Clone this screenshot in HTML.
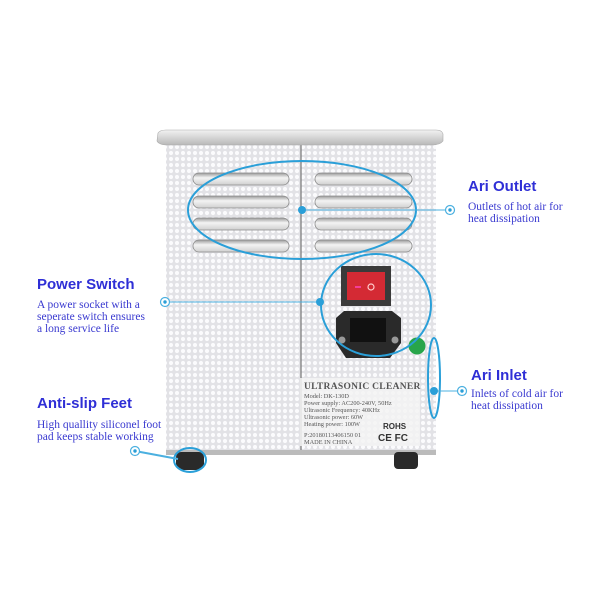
<!DOCTYPE html>
<html><head><style>
html,body{margin:0;padding:0;background:#fff;width:600px;height:600px;overflow:hidden}
.h{font-family:"Liberation Sans",sans-serif;font-weight:bold;font-size:15px;fill:#2f2fd6}
.b{font-family:"Liberation Serif",serif;font-size:11.5px;fill:#3a3ad0}
.l{font-family:"Liberation Serif",serif;fill:#555}
</style></head><body>
<svg width="600" height="600" viewBox="0 0 600 600" xmlns="http://www.w3.org/2000/svg">
<defs>
<pattern id="dots" width="6" height="6" patternUnits="userSpaceOnUse">
<rect width="6" height="6" fill="#e2e2e6"/><circle cx="3" cy="3" r="2.1" fill="#fbfbfd"/>
</pattern>
<linearGradient id="lid" x1="0" y1="0" x2="0" y2="1"><stop offset="0" stop-color="#f2f2f2"/><stop offset="1" stop-color="#b8b8b8"/></linearGradient>
<linearGradient id="lv" x1="0" y1="0" x2="0" y2="1"><stop offset="0" stop-color="#9a9a9a"/><stop offset="0.4" stop-color="#f4f4f4"/><stop offset="1" stop-color="#cfcfcf"/></linearGradient>
</defs>
<rect x="166" y="144" width="270" height="310" fill="url(#dots)"/>
<line x1="301" y1="145" x2="301" y2="454" stroke="#777" stroke-width="1.2"/>
<rect x="166" y="450" width="270" height="5" fill="#bbb"/>
<path d="M158 133 Q160 130 166 130 L436 130 Q442 130 443 134 L443 141 Q440 145 432 145 L168 145 Q159 145 157 141 Z" fill="url(#lid)" stroke="#aaa" stroke-width="0.6"/>
<g fill="url(#lv)" stroke="#8a8a8a" stroke-width="0.8">
<rect x="193" y="173" width="96" height="12" rx="6"/><rect x="193" y="196" width="96" height="12" rx="6"/>
<rect x="193" y="218" width="96" height="12" rx="6"/><rect x="193" y="240" width="96" height="12" rx="6"/>
<rect x="315" y="173" width="97" height="12" rx="6"/><rect x="315" y="196" width="97" height="12" rx="6"/>
<rect x="315" y="218" width="97" height="12" rx="6"/><rect x="315" y="240" width="97" height="12" rx="6"/>
</g>
<rect x="341" y="266" width="50" height="40" fill="#3a3a3a"/>
<rect x="347" y="272" width="38" height="28" fill="#d42a34"/>
<line x1="355" y1="287" x2="361" y2="287" stroke="#f4b" stroke-width="1.5"/>
<circle cx="371" cy="287" r="3" fill="none" stroke="#fcc" stroke-width="1.2"/>
<path d="M336 318 L344 311 L392 311 L401 318 L401 343 L390 358 L346 358 L336 343 Z" fill="#2a2a2a"/>
<rect x="350" y="318" width="36" height="24" fill="#111"/>
<circle cx="342" cy="340" r="3.5" fill="#999"/><circle cx="395" cy="340" r="3.5" fill="#999"/>
<circle cx="417" cy="346" r="8.5" fill="#28a54a"/>
<rect x="300" y="378" width="120" height="68" fill="#f3f3f3" opacity="0.85"/>
<text x="304" y="389" class="l" font-size="9.5" font-weight="bold" letter-spacing="0.3" fill="#333">ULTRASONIC CLEANER</text>
<g class="l" font-size="6.3">
<text x="304" y="398">Model: DK-130D</text>
<text x="304" y="405">Power supply: AC200-240V, 50Hz</text>
<text x="304" y="412">Ultrasonic Frequency: 40KHz</text>
<text x="304" y="419">Ultrasonic power: 60W</text>
<text x="304" y="426">Heating power: 100W</text>
<text x="304" y="437">P:20180113406150 01</text>
<text x="304" y="444">MADE IN CHINA</text>
</g>
<text x="383" y="429" font-family="Liberation Sans,sans-serif" font-size="8" font-weight="bold" fill="#333">ROHS</text>
<text x="378" y="441" font-family="Liberation Sans,sans-serif" font-size="10" font-weight="bold" fill="#333">CE FC</text>
<rect x="176" y="452" width="28" height="18" rx="5" fill="#2a2a2a"/>
<rect x="394" y="452" width="24" height="17" rx="4" fill="#2a2a2a"/>
<g fill="none" stroke="#2a9fd8" stroke-width="2">
<ellipse cx="302" cy="210" rx="114" ry="49"/>
<ellipse cx="376" cy="305" rx="55" ry="51"/>
<ellipse cx="434" cy="378" rx="6" ry="40"/>
<ellipse cx="190" cy="460" rx="16" ry="12"/>
</g>
<g stroke="#4bb0e0" stroke-width="1">
<line x1="302" y1="210" x2="450" y2="210"/>
<line x1="165" y1="302" x2="320" y2="302"/>
<line x1="434" y1="391" x2="462" y2="391"/>
<line x1="135" y1="451" x2="178" y2="459" stroke-width="2"/>
</g>
<g fill="#2a9fd8">
<circle cx="302" cy="210" r="4"/><circle cx="320" cy="302" r="4"/><circle cx="434" cy="391" r="4"/>
</g>
<g fill="#fff" stroke="#4bb0e0" stroke-width="1.2">
<circle cx="450" cy="210" r="4.5"/><circle cx="165" cy="302" r="4.5"/><circle cx="462" cy="391" r="4.5"/><circle cx="135" cy="451" r="4.5"/>
</g>
<g fill="#2a9fd8"><circle cx="450" cy="210" r="1.7"/><circle cx="165" cy="302" r="1.7"/><circle cx="462" cy="391" r="1.7"/><circle cx="135" cy="451" r="1.7"/></g>
<text x="468" y="191" class="h">Ari Outlet</text>
<text x="468" y="210" class="b">Outlets of hot air for</text>
<text x="468" y="222" class="b">heat dissipation</text>
<text x="37" y="289" class="h">Power Switch</text>
<text x="37" y="308" class="b">A power socket with a</text>
<text x="37" y="320" class="b">seperate switch ensures</text>
<text x="37" y="332" class="b">a long service life</text>
<text x="471" y="380" class="h">Ari Inlet</text>
<text x="471" y="397" class="b">Inlets of cold air for</text>
<text x="471" y="409" class="b">heat dissipation</text>
<text x="37" y="408" class="h">Anti-slip Feet</text>
<text x="37" y="428" class="b">High quallity siliconel foot</text>
<text x="37" y="440" class="b">pad keeps stable working</text>
</svg>
</body></html>
